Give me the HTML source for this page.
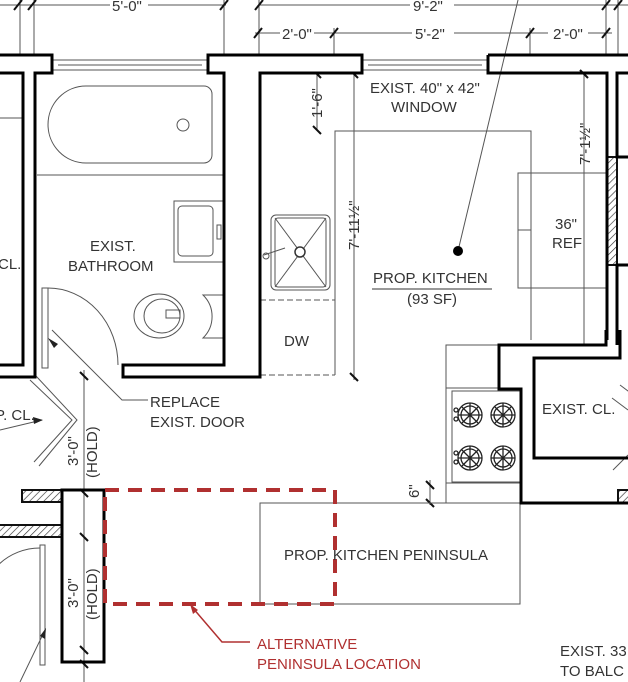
<!DOCTYPE html>
<html><head><meta charset="utf-8"><style>
html,body{margin:0;padding:0;background:#fff;}
svg{display:block;}
text{font-family:"Liberation Sans",sans-serif;fill:#333;font-size:15px;}
</style></head><body>
<svg width="628" height="682" viewBox="0 0 628 682" xmlns="http://www.w3.org/2000/svg">
<defs>
<pattern id="h" width="5" height="5" patternUnits="userSpaceOnUse" patternTransform="rotate(45)">
<rect width="5" height="5" fill="#fff"/><line x1="0" y1="0" x2="0" y2="5" stroke="#333" stroke-width="1.3"/></pattern>
</defs>
<rect width="628" height="682" fill="#fff"/>
<g stroke="#555" stroke-width="1" fill="none">
<line x1="0" y1="5" x2="110" y2="5"/><line x1="148" y1="5" x2="226" y2="5"/>
<line x1="258" y1="5" x2="410" y2="5"/><line x1="454" y1="5" x2="628" y2="5"/>
<line x1="255" y1="33" x2="280" y2="33"/><line x1="314" y1="33" x2="412" y2="33"/><line x1="454" y1="33" x2="548" y2="33"/><line x1="588" y1="33" x2="612" y2="33"/>
<line x1="20" y1="0" x2="20" y2="55"/><line x1="34" y1="0" x2="34" y2="55"/><line x1="224" y1="0" x2="224" y2="55"/>
<line x1="259" y1="0" x2="259" y2="55"/><line x1="334" y1="28" x2="334" y2="55"/><line x1="530" y1="28" x2="530" y2="55"/><line x1="606" y1="0" x2="606" y2="55"/><line x1="618" y1="0" x2="618" y2="55"/>
<line x1="244" y1="73" x2="244" y2="370"/>
<line x1="354" y1="73" x2="354" y2="380"/>
<line x1="317" y1="73" x2="317" y2="131"/>
<line x1="584" y1="73" x2="584" y2="345"/>
<line x1="84" y1="370" x2="84" y2="682"/>
<line x1="430" y1="480" x2="430" y2="505"/>
<line x1="458" y1="251" x2="518" y2="0"/>
</g>
<g stroke="#111" stroke-width="2">
<line x1="14" y1="10" x2="22" y2="0"/><line x1="28" y1="10" x2="36" y2="0"/><line x1="220" y1="10" x2="228" y2="0"/>
<line x1="255" y1="10" x2="263" y2="0"/><line x1="602" y1="10" x2="610" y2="0"/><line x1="614" y1="10" x2="622" y2="0"/>
<line x1="254" y1="38" x2="262" y2="28"/><line x1="330" y1="38" x2="338" y2="28"/><line x1="526" y1="38" x2="534" y2="28"/><line x1="602" y1="38" x2="610" y2="28"/>
<line x1="240" y1="70" x2="248" y2="78"/><line x1="313" y1="70" x2="321" y2="78"/><line x1="350" y1="70" x2="358" y2="78"/><line x1="580" y1="70" x2="588" y2="78"/>
<line x1="313" y1="126" x2="321" y2="134"/><line x1="240" y1="362" x2="248" y2="370"/><line x1="350" y1="373" x2="358" y2="381"/>
<line x1="80" y1="372" x2="88" y2="380"/><line x1="80" y1="489" x2="88" y2="497"/><line x1="80" y1="533" x2="88" y2="541"/><line x1="80" y1="646" x2="88" y2="654"/><line x1="80" y1="660" x2="88" y2="668"/>
<line x1="426" y1="481" x2="434" y2="489"/><line x1="426" y1="499" x2="434" y2="507"/>
</g>
<g font-size="14.5">
<text x="112" y="11">5'-0"</text><text x="413" y="11">9'-2"</text>
<text x="282" y="39">2'-0"</text><text x="415" y="39">5'-2"</text><text x="553" y="39">2'-0"</text>
<text transform="translate(249,240) rotate(-90)">7'-7½"</text>
<text transform="translate(359,250) rotate(-90)">7'-11½"</text>
<text transform="translate(322,118) rotate(-90)">1'-6"</text>
<text transform="translate(590,165) rotate(-90)">7'-1½"</text>
<text transform="translate(78,466) rotate(-90)">3'-0"</text>
<text transform="translate(97,478) rotate(-90)">(HOLD)</text>
<text transform="translate(78,608) rotate(-90)">3'-0"</text>
<text transform="translate(97,620) rotate(-90)">(HOLD)</text>
<text transform="translate(419,498) rotate(-90)">6"</text>
</g>
<g stroke="#555" stroke-width="1" fill="none">
<rect x="52" y="60" width="156" height="10"/><line x1="58" y1="65" x2="202" y2="65"/>
<rect x="362" y="60" width="126" height="10"/><line x1="368" y1="65" x2="482" y2="65"/>
</g>
<g stroke="#555" stroke-width="1" fill="none">
<line x1="0" y1="118" x2="22" y2="118"/>
<path d="M86 86 H204 a8 8 0 0 1 8 8 V155 a8 8 0 0 1 -8 8 H86 a38 38.5 0 0 1 0 -77Z"/>
<circle cx="183" cy="125" r="6"/>
<line x1="37" y1="175" x2="224" y2="175"/>
<rect x="174" y="201" width="50" height="61"/><rect x="178" y="206" width="35" height="50" rx="4"/><rect x="217" y="225" width="4" height="14"/>
<ellipse cx="159" cy="316" rx="25" ry="22"/><ellipse cx="162" cy="316" rx="18" ry="17"/>
<rect x="166" y="310" width="14" height="8"/><path d="M203 295 H224 V338 H203 a30 30 0 0 0 0 -43Z"/>
<rect x="42" y="288" width="6" height="80"/>
<path d="M48 288 A70 77 0 0 1 118 365"/>
<rect x="271" y="215" width="59" height="75" rx="5"/><rect x="275" y="218" width="51" height="69" rx="3"/>
<line x1="275" y1="218" x2="326" y2="287"/><line x1="326" y1="218" x2="275" y2="287"/>
<circle cx="300" cy="252" r="5" fill="#fff" stroke="#333" stroke-width="1.5"/>
<path d="M264 255 L285 248"/><circle cx="266" cy="256" r="3"/>
<line x1="260" y1="300" x2="335" y2="300" stroke-dasharray="6,3"/>
<line x1="260" y1="375" x2="335" y2="375" stroke-dasharray="6,3"/>
<path d="M335 375 V131 H531 V340"/>
<rect x="518" y="173" width="89" height="115"/><line x1="518" y1="230" x2="531" y2="230"/>
<path d="M446 503 V345 H499"/><line x1="446" y1="388" x2="499" y2="388"/><line x1="446" y1="483" x2="521" y2="483"/>
<rect x="452" y="391" width="69" height="91"/>
<rect x="260" y="503" width="260" height="101"/><line x1="260" y1="503" x2="446" y2="503"/>
<path d="M30 380 L72 420 L34 462 M36 376 L77 420 L39 466"/>
<path d="M620 385 L640 400 M612 398 L628 410" />
<path d="M613 470 L628 455"/>
<rect x="40" y="545" width="5" height="120"/>
<path d="M40 548 A60 60 0 0 0 -20 608"/>
<path d="M148 400 H122 L52 330"/>
<path d="M0 430 L42 420"/><path d="M20 682 L45 630"/>
</g>
<g fill="#222"><path d="M48 338 L58 344 L54 348Z"/><path d="M43 420 L33 417 L34 424Z"/><path d="M46 628 L40 636 L45 639Z"/></g>
<g stroke="#222" stroke-width="1.3" fill="none">
<circle cx="470" cy="415" r="12"/><circle cx="503" cy="415" r="12"/><circle cx="470" cy="458" r="12"/><circle cx="503" cy="458" r="12"/>
<circle cx="470" cy="415" r="9"/><circle cx="503" cy="415" r="9"/><circle cx="470" cy="458" r="9"/><circle cx="503" cy="458" r="9"/>
<path d="M458 415H482M470 403V427M462 407L478 423M478 407L462 423 M491 415H515M503 403V427M495 407L511 423M511 407L495 423 M458 458H482M470 446V470M462 450L478 466M478 450L462 466 M491 458H515M503 446V470M495 450L511 466M511 450L495 466"/>
<circle cx="456" cy="410" r="2"/><circle cx="456" cy="419" r="2"/><circle cx="456" cy="453" r="2"/><circle cx="456" cy="462" r="2"/>
</g>
<g stroke="#111" stroke-width="2">
<rect x="607" y="157" width="10" height="108" fill="url(#h)"/>
<rect x="618" y="490" width="12" height="13" fill="url(#h)"/>
<rect x="22" y="490" width="40" height="12" fill="url(#h)"/>
<rect x="-2" y="525" width="64" height="12" fill="url(#h)"/>
</g>
<g stroke="#000" stroke-width="3" fill="none">
<path d="M0 55 H52 V73 H35 V377 H0"/>
<path d="M0 73 H23 V365 H0"/>
<path d="M208 55 H362 V73 H260 V377 H123 V365 H224 V73 H208 Z" fill="#fff"/>
<path d="M488 55 H628 M488 55 V73 H607 V340"/>
<path d="M628 73 H617 V157 H628 M628 265 H617 V345"/>
<path d="M606 330 V345 H499 V389 H521 V503 H628"/>
<path d="M620 330 V358 H534 V458 H628"/>
<rect x="62" y="490" width="42" height="172" fill="none"/>
</g>
<rect x="105" y="490" width="230" height="114" fill="none" stroke="#b03030" stroke-width="4" stroke-dasharray="14,9"/>
<path d="M192 607 L222 642 H250" fill="none" stroke="#b03030" stroke-width="1.5"/>
<path d="M190 604 L193 614 L198 610Z" fill="#b03030"/>
<text x="90" y="251" font-size="16">EXIST.</text><text x="68" y="271" font-size="16">BATHROOM</text>
<text x="-2" y="269">CL.</text>
<text x="370" y="93">EXIST. 40" x 42"</text><text x="391" y="112">WINDOW</text>
<text x="555" y="229">36"</text><text x="552" y="248">REF</text>
<circle cx="458" cy="251" r="5" fill="#000"/>
<text x="373" y="283" font-size="16">PROP. KITCHEN</text><line x1="372" y1="289" x2="492" y2="289" stroke="#333"/>
<text x="407" y="304" font-size="16">(93 SF)</text>
<text x="284" y="346">DW</text>
<text x="150" y="407" font-size="16">REPLACE</text><text x="150" y="427" font-size="16">EXIST. DOOR</text>
<text x="-5" y="420" font-size="16">P. CL.</text>
<text x="542" y="414" font-size="16">EXIST. CL.</text>
<text x="284" y="560" font-size="16.5">PROP. KITCHEN PENINSULA</text>
<text x="257" y="649" style="fill:#b03030" font-size="16">ALTERNATIVE</text>
<text x="257" y="669" style="fill:#b03030" font-size="16">PENINSULA LOCATION</text>
<text x="560" y="656" font-size="16">EXIST. 33</text><text x="560" y="676" font-size="16">TO BALC</text>
</svg>
</body></html>
